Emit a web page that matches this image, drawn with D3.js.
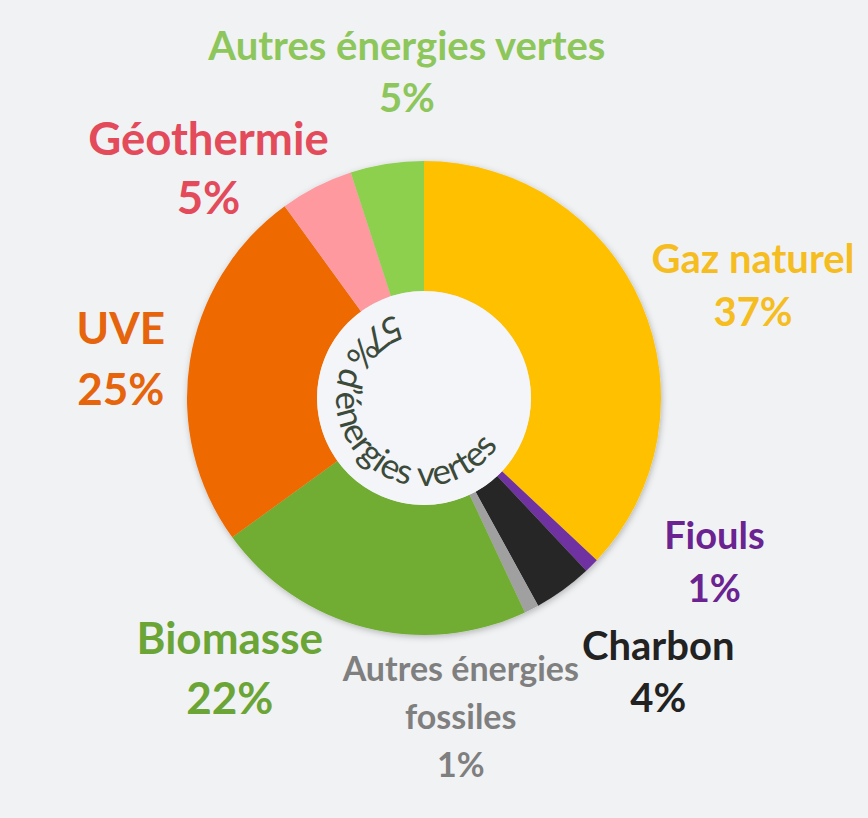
<!DOCTYPE html>
<html>
<head>
<meta charset="utf-8">
<script src="https://cdn.jsdelivr.net/npm/d3@7"></script>
<style>
  html, body { margin: 0; padding: 0; background: #f1f2f4; }
  svg { display: block; }
  .lbl { font-family: Lato, "Open Sans", sans-serif; font-weight: 700; }
  .centre { font-family: Lato, "Open Sans", sans-serif; font-weight: 400; fill: #3b4a3a; }
</style>
</head>
<body>
<script>
// data
var categories = ["Gaz naturel", "Fiouls", "Charbon", "Autres énergies fossiles",
                  "Biomasse", "UVE", "Géothermie", "Autres énergies vertes"];
var values = [37, 1, 4, 1, 22, 25, 5, 5];
var labelLines = [["Gaz naturel"], ["Fiouls"], ["Charbon"], ["Autres énergies", "fossiles"],
                  ["Biomasse"], ["UVE"], ["Géothermie"], ["Autres énergies vertes"]];
var centreText = "57% d’énergies vertes";

// styles
var sliceColors = ["#ffc000", "#7030a0", "#262626", "#a0a0a0",
                   "#70ad30", "#ee6a05", "#ff99a0", "#8cd04e"];
var labelColors = ["#f5bd1f", "#6a2390", "#222222", "#7f7f7f",
                   "#6aa536", "#e5640c", "#e34b5b", "#8dc65a"];
// label placement (angle in degrees clockwise from 12 o'clock, distance from centre)
var labelAngle = [71, 119.3, 139.4, 173.4, 215.8, 277.7, 317, 357];
var labelDist = [348, 333, 360, 320, 332, 306, 316, 327];
var labelSize = [40, 38, 40, 34, 44, 44, 45.5, 40];
var labelGap = [53, 53, 52, 48, 60, 61, 59, 52];

var ww = 868, hh = 818
  , cx = 424, cy = 398
  , rOuter = 237, rInner = 107;

var svg = d3.select('body').append('svg').attr('width', ww).attr('height', hh);
svg.append('rect').attr('width', ww).attr('height', hh).attr('fill', '#f1f2f4');

var defs = svg.append('defs');
var shadow = defs.append('filter').attr('id', 'soft').attr('x', '-20%').attr('y', '-20%').attr('width', '140%').attr('height', '140%');
shadow.append('feDropShadow').attr('dx', 1).attr('dy', 2).attr('stdDeviation', 3).attr('flood-color', '#000').attr('flood-opacity', 0.25);

var g = svg.append('g').attr('transform', `translate(${cx},${cy})`);

var pie = d3.pie().sort(null).value(function(d) { return d; })
  , arc = d3.arc().innerRadius(rInner).outerRadius(rOuter)
  , arcs = pie(values);

g.append('g').attr('filter', 'url(#soft)')
  .selectAll('path').data(arcs).enter().append('path')
  .attr('d', arc)
  .attr('fill', function(d, i) { return sliceColors[i]; });

// hole
g.append('circle').attr('r', rInner).attr('fill', '#f4f5f8');

// curved centre caption, runs counter-clockwise with letters facing inward
var rText = 88, midA = -128 * Math.PI / 180
  , a0 = midA + Math.PI
  , p0 = d3.pointRadial(a0, rText)
  , p1 = d3.pointRadial(a0 - Math.PI, rText);
defs.append('path').attr('id', 'centrePath')
  .attr('d', `M${cx + p0[0]},${cy + p0[1]} A${rText},${rText} 0 1 0 ${cx + p1[0]},${cy + p1[1]} A${rText},${rText} 0 1 0 ${cx + p0[0]},${cy + p0[1]}`);
svg.append('text').attr('class', 'centre').attr('font-size', 35)
  .append('textPath').attr('href', '#centrePath').attr('startOffset', '50%')
  .attr('text-anchor', 'middle').text(centreText);

// labels
var labels = svg.append('g').selectAll('text').data(arcs).enter().append('text')
  .attr('class', 'lbl')
  .attr('text-anchor', 'middle')
  .attr('fill', function(d, i) { return labelColors[i]; })
  .attr('font-size', function(d, i) { return labelSize[i]; });

labels.each(function(d, i) {
  var p = d3.pointRadial(labelAngle[i] * Math.PI / 180, labelDist[i])
    , lines = labelLines[i].concat([values[i] + '%'])
    , n = lines.length
    , t = d3.select(this);
  lines.forEach(function(s, k) {
    t.append('tspan')
      .attr('x', cx + p[0])
      .attr('y', cy + p[1] + (k - (n - 1) / 2) * labelGap[i])
      .attr('dominant-baseline', 'central')
      .text(s);
  });
});
</script>
</body>
</html>
